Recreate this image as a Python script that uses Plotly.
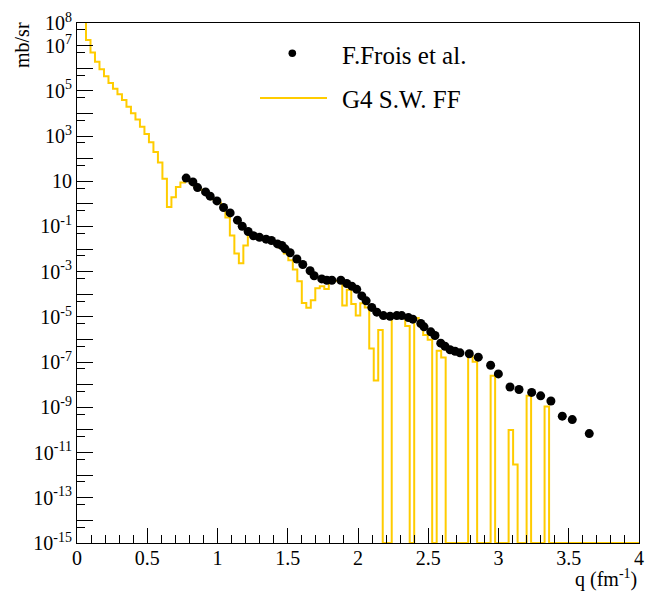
import numpy as np
import plotly.graph_objects as go

# ---------------- data ----------------
# G4 S.W. FF histogram: 125 bins on [0, 4]; log10 of bin content (-15 = empty bin, drawn on the floor)
hist_q_min = 0.0
hist_q_max = 4.0
hist_log10 = [
    9.5, 8.5, 7.25, 6.69, 6.29, 5.95, 5.64, 5.35, 5.09, 4.85,          # 0-9
    4.59, 4.30, 4.01, 3.73, 3.41, 3.09, 2.72, 2.29, 1.83, 1.11,        # 10-19
    -0.14, 0.29, 0.75, 0.94, 1.05, 0.95, 0.80, 0.62, 0.50, 0.38,       # 20-29
    0.20, 0.05, -0.11, -0.60, -1.40, -2.20, -2.63, -1.84, -1.38, -1.42,  # 30-39
    -1.50, -1.56, -1.60, -1.68, -1.80, -1.95, -2.20, -2.49, -2.90, -3.42,  # 40-49
    -4.38, -4.60, -4.26, -3.73, -3.64, -3.76, -3.50, -3.40, -3.42, -4.50,  # 50-59
    -3.80, -4.43, -4.94, -4.40, -4.58, -6.40, -7.81, -5.58, -15, -15,    # 60-69
    -4.97, -4.97, -5.00, -5.40, -15, -5.05, -5.34, -5.80, -6.01, -15,    # 70-79
    -6.50, -6.80, -15, -15, -15, -15, -15, -6.73, -6.98, -15,           # 80-89
    -15, -15, -7.60, -15, -15, -15, -10.00, -11.53, -15, -15,           # 90-99
    -8.49, -15, -15, -15, -8.96, -15, -15, -15, -15, -15,               # 100-109
    -15, -15, -15, -15, -15, -15, -15, -15, -15, -15,                   # 110-119
    -15, -15, -15, -15, -15,                                            # 120-124
]

# F.Frois et al. data points
data_q = [0.777, 0.825, 0.858, 0.915, 0.948, 0.996, 1.043, 1.090, 1.142, 1.176,
          1.218, 1.256, 1.299, 1.346, 1.384, 1.427, 1.458, 1.481, 1.517, 1.565,
          1.607, 1.659, 1.688, 1.742, 1.778, 1.814, 1.878, 1.920, 1.956, 1.991,
          2.027, 2.058, 2.098, 2.134, 2.181, 2.228, 2.276, 2.311, 2.359, 2.390,
          2.447, 2.470, 2.518, 2.548, 2.589, 2.619, 2.655, 2.691, 2.726, 2.792,
          2.856, 2.944, 2.999, 3.082, 3.146, 3.236, 3.300, 3.373, 3.454, 3.525,
          3.646]
data_log10 = [1.14, 0.97, 0.72, 0.53, 0.34, 0.13, -0.16, -0.40, -0.72, -0.99,
              -1.22, -1.41, -1.48, -1.56, -1.62, -1.77, -1.84, -1.99, -2.16, -2.44,
              -2.68, -2.96, -3.18, -3.32, -3.38, -3.38, -3.38, -3.52, -3.64, -3.78,
              -4.07, -4.29, -4.58, -4.79, -4.94, -4.97, -4.94, -4.94, -5.03, -5.10,
              -5.29, -5.44, -5.66, -5.82, -6.16, -6.30, -6.45, -6.52, -6.59, -6.63,
              -6.78, -7.14, -7.52, -8.10, -8.21, -8.34, -8.49, -8.72, -9.39, -9.54,
              -10.16]

x_tick_vals = [0, 0.5, 1, 1.5, 2, 2.5, 3, 3.5, 4]
x_tick_text = ["0", "0.5", "1", "1.5", "2", "2.5", "3", "3.5", "4"]
y_label_exps = [8, 7, 5, 3, 1, -1, -3, -5, -7, -9, -11, -13, -15]
y_tick_text = ["10<sup>8</sup>", "10<sup>7</sup>", "10<sup>5</sup>", "10<sup>3</sup>", "10",
               "10<sup>-1</sup>", "10<sup>-3</sup>", "10<sup>-5</sup>", "10<sup>-7</sup>",
               "10<sup>-9</sup>", "10<sup>-11</sup>", "10<sup>-13</sup>", "10<sup>-15</sup>"]

series_names = ["F.Frois et al.", "G4 S.W. FF"]
x_title = "q (fm<sup>-1</sup>)"
y_title = "mb/sr"

# ---------------- build ----------------
FONT = "Liberation Serif"
YELLOW = "#FFCC00"

n_bins = len(hist_log10)
edges = np.linspace(hist_q_min, hist_q_max, n_bins + 1)
hist_vals = [10.0 ** v for v in hist_log10]
step_x = list(edges)
step_y = hist_vals + [hist_vals[-1]]

fig = go.Figure()
fig.add_trace(go.Scatter(
    x=step_x, y=step_y, mode="lines", line=dict(color=YELLOW, width=2, shape="hv"),
    name=series_names[1], showlegend=False, hoverinfo="skip"))
fig.add_trace(go.Scatter(
    x=data_q, y=[10.0 ** v for v in data_log10], mode="markers",
    marker=dict(color="black", size=9, symbol="circle"),
    name=series_names[0], showlegend=False))
# empty trace carrying the overlay axis with the unlabelled decade ticks
fig.add_trace(go.Scatter(x=[], y=[], yaxis="y2", showlegend=False, hoverinfo="skip"))

y_tick_vals = [10.0 ** e for e in y_label_exps]
y_unlabelled = [10.0 ** e for e in range(-15, 9) if e not in y_label_exps]
y_minor_vals = [5 * 10.0 ** e for e in range(-16, 8)]

W, H = 662, 598
L, R, T, B = 77, 23, 10, 55

tick_common = dict(ticks="inside", tickwidth=1, tickcolor="black")

fig.update_layout(
    width=W, height=H, autosize=False,
    margin=dict(l=L, r=R, t=T, b=B, pad=0),
    paper_bgcolor="white", plot_bgcolor="white",
    font=dict(family=FONT, size=20, color="black"),
    showlegend=False,
    xaxis=dict(
        range=[0, 4], showgrid=False, zeroline=False,
        showline=True, linecolor="black", linewidth=1, mirror=True,
        ticklen=15, **tick_common,
        tickmode="array", tickvals=x_tick_vals, ticktext=x_tick_text,
        tickfont=dict(family=FONT, size=20), ticklabelstandoff=-3,
        minor=dict(dtick=0.1, tick0=0, ticklen=8, showgrid=False, **tick_common),
    ),
    yaxis=dict(
        type="log", range=[-15, 8], showgrid=False, zeroline=False,
        showline=True, linecolor="black", linewidth=1, mirror=True,
        ticklen=16, **tick_common,
        tickmode="array", tickvals=y_tick_vals, ticktext=y_tick_text,
        tickfont=dict(family=FONT, size=20), ticklabeloverflow="allow",
        minor=dict(tickmode="array", tickvals=y_minor_vals, ticklen=8,
                   showgrid=False, **tick_common),
    ),
    yaxis2=dict(
        type="log", range=[-15, 8], overlaying="y", side="left",
        showgrid=False, zeroline=False, showline=False,
        ticklen=16, **tick_common,
        tickmode="array", tickvals=y_unlabelled, showticklabels=False,
    ),
)

pw = W - L - R
ph = H - T - B
def px_to_paper(px, py):
    return (px - L) / pw, (H - B - py) / ph

# axis titles
fig.add_annotation(text=y_title, xref="paper", yref="paper", x=0, y=1,
                   xanchor="center", yanchor="top", xshift=-55, yshift=3,
                   textangle=-90, showarrow=False, font=dict(family=FONT, size=20))
fig.add_annotation(text=x_title, xref="paper", yref="paper", x=1, y=0,
                   xanchor="right", yanchor="middle", xshift=0, yshift=-35,
                   showarrow=False, font=dict(family=FONT, size=20))

# legend (drawn manually to match the reference layout)
mx, my = px_to_paper(292.3, 41)
r = 3.8
fig.add_shape(type="circle", xref="paper", yref="paper",
              x0=mx - r / pw, x1=mx + r / pw, y0=my - r / ph, y1=my + r / ph,
              fillcolor="black", line=dict(color="black", width=0))
lx0, ly = px_to_paper(260, 87)
lx1, _ = px_to_paper(327, 87)
fig.add_shape(type="line", xref="paper", yref="paper", x0=lx0, x1=lx1, y0=ly, y1=ly,
              line=dict(color=YELLOW, width=2))
tx, ty1 = px_to_paper(340, 43)
_, ty2 = px_to_paper(340, 88)
fig.add_annotation(text=series_names[0], xref="paper", yref="paper", x=tx, y=ty1,
                   xanchor="left", yanchor="middle", showarrow=False,
                   font=dict(family=FONT, size=25))
fig.add_annotation(text=series_names[1], xref="paper", yref="paper", x=tx, y=ty2,
                   xanchor="left", yanchor="middle", showarrow=False,
                   font=dict(family=FONT, size=25))

fig.write_html("out.html", config={"displayModeBar": False},
               post_script="document.body.style.margin='0px';document.body.style.overflow='hidden';")
